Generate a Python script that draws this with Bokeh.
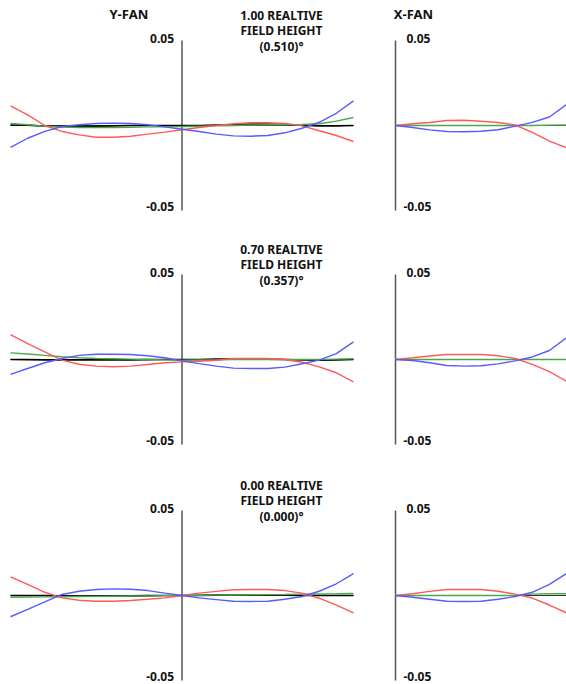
from bokeh.plotting import figure
from bokeh.layouts import gridplot
from bokeh.models import Label, Range1d
from bokeh.embed import file_html
from bokeh.resources import INLINE

# ---------------- data ----------------
y_pupil = [-1.0, -0.9, -0.8, -0.7, -0.6, -0.5, -0.4, -0.3, -0.2, -0.1, 0.0,
           0.1, 0.2, 0.3, 0.4, 0.5, 0.6, 0.7, 0.8, 0.9, 1.0]
x_pupil = [0.0, 0.1, 0.2, 0.3, 0.4, 0.5, 0.6, 0.7, 0.8, 0.9, 1.0]

field_labels = ["1.00 REALTIVE", "0.70 REALTIVE", "0.00 REALTIVE"]
field_angles = ["(0.510)°", "(0.357)°", "(0.000)°"]
tick_values = [0.05, -0.05]
tick_labels = ["0.05", "-0.05"]

# Y-FAN, field 1.00
yfan_red_100 = [0.0116, 0.0063, 0.0, -0.0035, -0.0055, -0.0069, -0.0069, -0.0063, -0.0051, -0.0039, -0.0025,
                -0.0012, 0.0, 0.0010, 0.0016, 0.0016, 0.0012, -0.0002, -0.0031, -0.0059, -0.0094]
yfan_blue_100 = [-0.0128, -0.0075, -0.0035, -0.0006, 0.0004, 0.0012, 0.0014, 0.0012, 0.0004, -0.0008, -0.0022,
                 -0.0035, -0.0051, -0.0061, -0.0063, -0.0059, -0.0043, -0.0016, 0.0019, 0.0072, 0.0145]
yfan_green_100 = [0.0012, 0.0004, -0.0004, -0.0009, -0.0012, -0.0012, -0.0012, -0.0010, -0.0008, -0.0007, -0.0006,
                  -0.0004, -0.0002, 0.0, 0.0003, 0.0004, 0.0004, 0.0006, 0.0010, 0.0026, 0.0047]
yfan_black_100 = [0.0003, 0.0002, -0.0004, -0.0006, -0.0006, -0.0004, -0.0002, 0.0, 0.0, 0.0, 0.0,
                  0.0, 0.0002, 0.0004, 0.0008, 0.0008, 0.0006, 0.0002, -0.0002, -0.0002, 0.0]

# Y-FAN, field 0.70
yfan_red_070 = [0.0147, 0.0094, 0.0045, -0.0004, -0.0028, -0.0039, -0.0043, -0.0039, -0.0029, -0.0019, -0.0014,
                -0.0010, -0.0004, 0.0006, 0.0006, 0.0006, 0.0, -0.0016, -0.0043, -0.0078, -0.0131]
yfan_blue_070 = [-0.0088, -0.0053, -0.0019, 0.0006, 0.0024, 0.0031, 0.0031, 0.0029, 0.0022, 0.0010, -0.0008,
                 -0.0024, -0.0039, -0.0051, -0.0053, -0.0053, -0.0045, -0.0025, -0.0004, 0.0035, 0.0104]
yfan_green_070 = [0.0039, 0.0032, 0.0024, 0.0016, 0.0010, 0.0006, 0.0004, 0.0002, 0.0, -0.0002, -0.0004,
                  -0.0003, -0.0002, -0.0001, 0.0, 0.0, 0.0, 0.0, 0.0, 0.0002, 0.0004]
yfan_black_070 = [0.0, -0.0001, -0.0002, -0.0002, -0.0002, -0.0002, -0.0002, -0.0002, -0.0001, 0.0, 0.0,
                  0.0, 0.0002, 0.0003, 0.0003, 0.0002, 0.0, -0.0003, -0.0004, -0.0003, 0.0]

# Y-FAN, field 0.00
yfan_red_000 = [0.0110, 0.0065, 0.0019, -0.0014, -0.0028, -0.0034, -0.0034, -0.0029, -0.0022, -0.0014, 0.0,
                0.0014, 0.0024, 0.0034, 0.0035, 0.0035, 0.0029, 0.0014, -0.0016, -0.0057, -0.0102]
yfan_blue_000 = [-0.0125, -0.0082, -0.0037, 0.0006, 0.0025, 0.0035, 0.0039, 0.0037, 0.0029, 0.0014, 0.0,
                 -0.0014, -0.0024, -0.0034, -0.0035, -0.0034, -0.0022, -0.0006, 0.0025, 0.0069, 0.0129]
yfan_green_000 = [-0.0010, -0.0009, -0.0008, -0.0007, -0.0006, -0.0005, -0.0004, -0.0003, -0.0002, -0.0001, 0.0,
                  0.0001, 0.0002, 0.0003, 0.0004, 0.0005, 0.0006, 0.0008, 0.0009, 0.0010, 0.0012]
yfan_black_000 = [0.0, 0.0, 0.0, -0.0002, -0.0003, -0.0003, -0.0003, -0.0002, -0.0001, 0.0, 0.0,
                  0.0001, 0.0002, 0.0003, 0.0003, 0.0003, 0.0002, 0.0, 0.0, 0.0, 0.0]

# X-FAN
xfan_red_100 = [0.0, 0.0010, 0.0018, 0.0029, 0.0031, 0.0025, 0.0018, 0.0003, -0.0041, -0.0092, -0.0131]
xfan_blue_100 = [0.0, -0.0012, -0.0026, -0.0035, -0.0037, -0.0034, -0.0025, -0.0004, 0.0018, 0.0050, 0.0123]
xfan_green_100 = [0.0, 0.0, 0.0, 0.0, 0.0, 0.0, 0.0, 0.0, 0.0, 0.0002, 0.0003]

xfan_red_070 = [0.0, 0.0010, 0.0021, 0.0029, 0.0029, 0.0029, 0.0022, 0.0006, -0.0029, -0.0071, -0.0128]
xfan_blue_070 = [0.0, -0.0006, -0.0019, -0.0035, -0.0039, -0.0037, -0.0026, -0.0008, 0.0015, 0.0053, 0.0128]
xfan_green_070 = [0.0, 0.0, 0.0, 0.0, 0.0, 0.0, 0.0, 0.0, 0.0, 0.0, 0.0]

xfan_red_000 = [0.0, 0.0010, 0.0024, 0.0035, 0.0035, 0.0035, 0.0025, 0.0008, -0.0015, -0.0056, -0.0102]
xfan_blue_000 = [0.0, -0.0010, -0.0022, -0.0034, -0.0035, -0.0034, -0.0022, -0.0006, 0.0019, 0.0065, 0.0129]
xfan_green_000 = [0.0, 0.0, 0.0, 0.0, 0.0, 0.0, 0.0, 0.0, 0.0008, 0.0010, 0.0010]

yfan_sets = [
    (yfan_red_100, yfan_blue_100, yfan_green_100, yfan_black_100),
    (yfan_red_070, yfan_blue_070, yfan_green_070, yfan_black_070),
    (yfan_red_000, yfan_blue_000, yfan_green_000, yfan_black_000),
]
xfan_sets = [
    (xfan_red_100, xfan_blue_100, xfan_green_100),
    (xfan_red_070, xfan_blue_070, xfan_green_070),
    (xfan_red_000, xfan_blue_000, xfan_green_000),
]

# ---------------- style / layout ----------------
FONT = "Noto Sans"
RED = "#ff5a5a"
BLUE = "#5a5aff"
GREEN = "#4aa84a"
BLACK = "#000000"
HLINE = "#333333"
AXIS = "#555555"
LW = 1.4

ROW_H = [232, 234, 218]   # pixel height of each row
TOP_B = [40, 42, 44]      # pixel distance from row top to +0.05
FRAME_H = 170             # pixels between +0.05 and -0.05
PX_PER_Y = FRAME_H / 0.1

LEFT_W, LEFT_AXIS_PX, LEFT_HALF = 370, 181.5, 171.5
RIGHT_W, RIGHT_AXIS_PX, RIGHT_SPAN = 196, 25, 171


def base(width, height, xr, top):
    yr = (-0.05 - (height - top - FRAME_H) / PX_PER_Y, 0.05 + top / PX_PER_Y)
    p = figure(width=width, height=height, x_range=Range1d(*xr), y_range=Range1d(*yr),
               output_backend="svg", toolbar_location=None,
               x_axis_type=None, y_axis_type=None,
               min_border_left=0, min_border_right=0, min_border_top=0, min_border_bottom=0)
    p.outline_line_color = None
    p.border_fill_color = "white"
    p.background_fill_color = "white"
    return p


def lab(p, x, y, text, xo=0, yo=0, align="center", size="12px"):
    p.add_layout(Label(x=x, y=y, x_offset=xo, y_offset=yo, text=text, text_align=align,
                       text_baseline="middle", text_font=FONT, text_font_style="bold",
                       text_font_size=size, text_color="#111111"))


rows = []
for i in range(3):
    # ----- Y-FAN -----
    xr = (-LEFT_AXIS_PX / LEFT_HALF, (LEFT_W - LEFT_AXIS_PX) / LEFT_HALF)
    py = base(LEFT_W, ROW_H[i], xr, TOP_B[i])
    py.segment(x0=[y_pupil[0]], y0=[0], x1=[y_pupil[-1]], y1=[0], line_color=HLINE, line_width=1.2)
    py.segment(x0=[0], y0=[tick_values[1]], x1=[0], y1=[tick_values[0]], line_color=AXIS, line_width=1.5)
    r, b, g, k = yfan_sets[i]
    py.line(y_pupil, k, line_color=BLACK, line_width=1.6)
    py.line(y_pupil, g, line_color=GREEN, line_width=LW)
    py.line(y_pupil, r, line_color=RED, line_width=LW)
    py.line(y_pupil, b, line_color=BLUE, line_width=LW)
    lab(py, 0, tick_values[0], tick_labels[0], xo=-8, yo=2, align="right")
    lab(py, 0, tick_values[1], tick_labels[1], xo=-8, yo=4, align="right")
    lab(py, 0.58, tick_values[0], field_labels[i], yo=25)
    lab(py, 0.58, tick_values[0], "FIELD HEIGHT", yo=10)
    lab(py, 0.58, tick_values[0], field_angles[i], yo=-6)
    if i == 0:
        lab(py, -0.31, tick_values[0], "Y-FAN", yo=27, size="13px")

    # ----- X-FAN -----
    xr = (-RIGHT_AXIS_PX / RIGHT_SPAN, (RIGHT_W - RIGHT_AXIS_PX) / RIGHT_SPAN)
    px = base(RIGHT_W, ROW_H[i], xr, TOP_B[i])
    px.segment(x0=[x_pupil[0]], y0=[0], x1=[x_pupil[-1]], y1=[0], line_color=HLINE, line_width=1.2)
    px.segment(x0=[0], y0=[tick_values[1]], x1=[0], y1=[tick_values[0]], line_color=AXIS, line_width=1.5)
    r, b, g = xfan_sets[i]
    px.line(x_pupil, g, line_color=GREEN, line_width=LW)
    px.line(x_pupil, r, line_color=RED, line_width=LW)
    px.line(x_pupil, b, line_color=BLUE, line_width=LW)
    lab(px, 0, tick_values[0], tick_labels[0], xo=11, yo=2, align="left")
    lab(px, 0, tick_values[1], tick_labels[1], xo=8, yo=4, align="left")
    if i == 0:
        lab(px, 0.105, tick_values[0], "X-FAN", yo=27, size="13px")
    rows.append([py, px])

grid = gridplot(rows, toolbar_location=None)

open("out.html", "w").write(file_html(grid, INLINE))
